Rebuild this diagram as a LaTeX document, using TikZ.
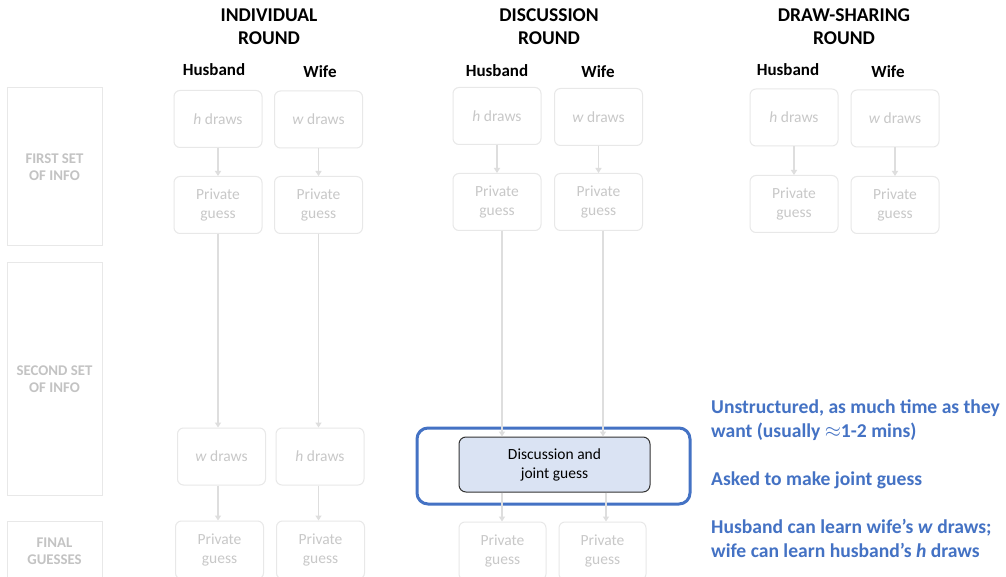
\documentclass[tikz,border=0pt]{standalone}
\usepackage{fontspec}
\setmainfont{Carlito}
\usetikzlibrary{arrows.meta,calc}
\definecolor{boxgray}{RGB}{232,232,232}
\definecolor{txtgray}{RGB}{200,200,200}
\definecolor{arrgray}{RGB}{222,222,222}
\definecolor{labgray}{RGB}{195,195,195}
\definecolor{myblue}{RGB}{68,114,196}
\definecolor{innerfill}{RGB}{218,227,243}
\tikzset{
  gbox/.style={draw=boxgray, line width=1pt, rounded corners=6pt, minimum width=88pt, minimum height=57pt,
    text=txtgray, font=\fontsize{15.5}{19}\selectfont, align=center, inner sep=0pt},
  labbox/.style={draw=boxgray, line width=1pt, minimum width=95pt, text=labgray,
    font=\bfseries\fontsize{14.8}{17}\selectfont, align=center, inner sep=0pt},
  header/.style={font=\bfseries\fontsize{19.5}{23}\selectfont, align=center, text=black},
  who/.style={font=\bfseries\fontsize{17}{20}\selectfont, text=black},
  garr/.style={draw=arrgray, line width=1.6pt, -{Triangle[width=6pt,length=5pt]}},
  bluetext/.style={font=\bfseries\fontsize{19.6}{24}\selectfont, text=myblue, align=left, anchor=west, inner sep=0pt},
}
\begin{document}
\begin{tikzpicture}[x=1pt,y=-1pt]
\useasboundingbox (0,0) rectangle (1006,577);
\fill[white] (0,0) rectangle (1006,577);

% left labels
\node[labbox, minimum height=158pt] (lab1) at (54.5,167) {FIRST SET\\OF INFO};
\node[labbox, minimum height=232pt] (lab2) at (54.5,379) {SECOND SET\\OF INFO};
\node[labbox, minimum height=60pt] (lab3) at (54.5,551) {FINAL\\GUESSES};

% headers
\node[header] (hd1) at (269,27) {INDIVIDUAL\\ROUND};
\node[header] (hd2) at (549,27) {DISCUSSION\\ROUND};
\node[header] (hd3) at (844,27) {DRAW-SHARING\\ROUND};

\node[who] (ihw) at (214,70) {Husband};
\node[who] (iww) at (320,72) {Wife};
\node[who] (dhw) at (497,71) {Husband};
\node[who] (dww) at (598,72) {Wife};
\node[who] (shw) at (788,70) {Husband};
\node[who] (sww) at (888,72) {Wife};

% individual round
\node[gbox] (ih1) at (218,119) {\textit{h} draws};
\node[gbox] (iw1) at (318.5,119.5) {\textit{w} draws};
\node[gbox] (ihp) at (218,205) {Private\\guess};
\node[gbox] (iwp) at (318.5,205) {Private\\guess};
\node[gbox] (iw2) at (221.5,456.5) {\textit{w} draws};
\node[gbox] (ih2) at (320,456.5) {\textit{h} draws};
\node[gbox, minimum height=58pt] (if1) at (219.5,550) {Private\\guess};
\node[gbox, minimum height=58pt] (if2) at (320.5,550) {Private\\guess};

\draw[garr] (ih1) -- (ihp);
\draw[garr] (iw1) -- (iwp);
\draw[garr] (ihp.south) -- (ihp.south |- iw2.north);
\draw[garr] (iwp.south) -- (iwp.south |- ih2.north);
\draw[garr] (iw2.south -| ihp.south) -- (ihp.south |- if1.north);
\draw[garr] (ih2.south -| iwp.south) -- (iwp.south |- if2.north);

% discussion round
\node[gbox] (dh1) at (497,116) {\textit{h} draws};
\node[gbox] (dw1) at (598.5,117) {\textit{w} draws};
\node[gbox] (dhp) at (497,202) {Private\\guess};
\node[gbox] (dwp) at (598.5,202) {Private\\guess};
\node[gbox, minimum width=87pt, minimum height=58pt] (df1) at (502.5,551) {Private\\guess};
\node[gbox, minimum width=87pt, minimum height=58pt] (df2) at (602.5,551) {Private\\guess};

\node[draw=myblue, line width=3pt, rounded corners=11pt, minimum width=273pt, minimum height=76pt, inner sep=0pt] (outer) at (553.5,466) {};
\node[draw=black!80, line width=1pt, fill=innerfill, rounded corners=7pt, minimum width=191pt, minimum height=55pt,
  font=\fontsize{15.5}{19}\selectfont, align=center, inner sep=0pt] (inner) at (554.5,464.5) {Discussion and\\joint guess};

\coordinate (a1) at ($(dhp.south)+(5,0)$);
\coordinate (a2) at ($(dwp.south)+(4.5,0)$);
\coordinate (b1) at ($(inner.south)+(-52.5,0)$);
\coordinate (b2) at ($(inner.south)+(51.5,0)$);

\draw[garr] (dh1) -- (dhp);
\draw[garr] (dw1) -- (dwp);
\draw[garr] (a1) -- (a1 |- inner.north);
\draw[garr] (a2) -- (a2 |- inner.north);
\draw[garr] (b1) -- (b1 |- df1.north);
\draw[garr] (b2) -- (b2 |- df2.north);

% draw-sharing round
\node[gbox] (sh1) at (794,117.5) {\textit{h} draws};
\node[gbox] (sw1) at (895,118.5) {\textit{w} draws};
\node[gbox] (shp) at (794,204) {Private\\guess};
\node[gbox] (swp) at (895,205) {Private\\guess};
\draw[garr] (sh1) -- (shp);
\draw[garr] (sw1) -- (swp);

% blue notes
\node[bluetext] (n1) at (711,420) {Unstructured, as much time as they\\want (usually $\approx$1-2 mins)};
\node[bluetext] (n2) at (711,480) {Asked to make joint guess};
\node[bluetext] (n3) at (711,538) {Husband can learn wife’s \textit{w} draws;\\wife can learn husband’s \textit{h} draws};
\end{tikzpicture}
\end{document}
